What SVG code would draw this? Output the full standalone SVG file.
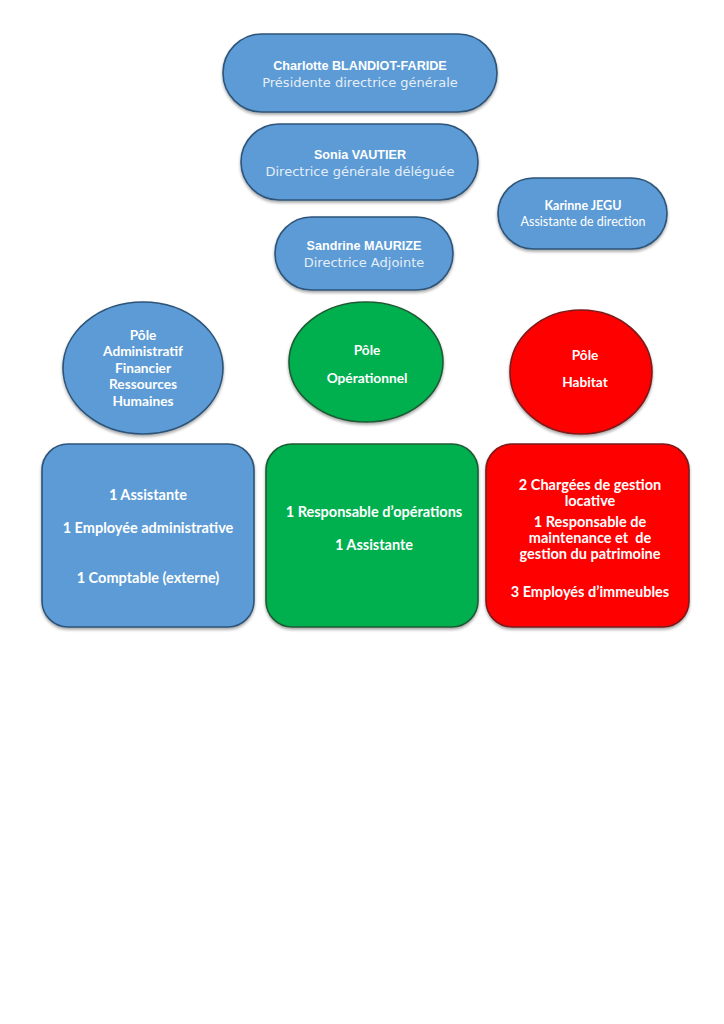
<svg xmlns="http://www.w3.org/2000/svg" width="724" height="1024" viewBox="0 0 724 1024">
<defs>
<filter id="sh" x="-10%" y="-10%" width="120%" height="130%">
<feGaussianBlur in="SourceAlpha" stdDeviation="1.5"/>
<feOffset dx="0" dy="1.5" result="b"/>
<feComponentTransfer><feFuncA type="linear" slope="0.35"/></feComponentTransfer>
<feMerge><feMergeNode/><feMergeNode in="SourceGraphic"/></feMerge>
</filter>
</defs>
<style>
.blue{fill:#5B9BD5;stroke:#2E5478;stroke-width:1.6;filter:url(#sh)}
.green{fill:#00B050;stroke:#1F5A33;stroke-width:1.6;filter:url(#sh)}
.red{fill:#FF0000;stroke:#7A1A1A;stroke-width:1.6;filter:url(#sh)}
.t{font-family:Lato,"Open Sans",sans-serif;font-weight:bold;fill:#FFFFFF;text-anchor:middle;font-size:14.5px}
.c{font-family:Lato,"Open Sans",sans-serif;font-weight:bold;fill:#FFFFFF;text-anchor:middle;font-size:13.7px}
.h{font-family:"Liberation Sans",Arial,sans-serif;font-weight:bold;fill:#FFFFFF;text-anchor:middle;font-size:12.6px}
.s{font-family:"DejaVu Sans",Verdana,sans-serif;fill:#E4EEF8;text-anchor:middle;font-size:13px}
.k{font-family:Lato,"Open Sans",sans-serif;fill:#FFFFFF;text-anchor:middle;font-size:12.5px}
</style>
<rect width="724" height="1024" fill="#FFFFFF"/>
<g id="connectors"/>
<g id="charlotte">
<rect class="blue" x="223" y="34" width="274" height="78" rx="39"/>
<text class="h" x="360" y="70">Charlotte BLANDIOT-FARIDE</text>
<text class="s" x="360" y="87">Présidente directrice générale</text>
</g>
<g id="sonia">
<rect class="blue" x="241" y="124" width="237" height="76" rx="38"/>
<text class="h" x="360" y="159">Sonia VAUTIER</text>
<text class="s" x="360" y="176">Directrice générale déléguée</text>
</g>
<g id="sandrine">
<rect class="blue" x="275" y="217" width="178" height="73" rx="36.5"/>
<text class="h" x="364" y="250">Sandrine MAURIZE</text>
<text class="s" x="364" y="267">Directrice Adjointe</text>
</g>
<g id="karinne">
<rect class="blue" x="498" y="178" width="169" height="71" rx="35.5"/>
<text class="k" x="583" y="210" font-weight="bold">Karinne JEGU</text>
<text class="k" x="583" y="226">Assistante de direction</text>
</g>
<g id="pole-admin">
<ellipse class="blue" cx="143" cy="368" rx="80" ry="66"/>
<text class="c" x="143" y="340">Pôle</text>
<text class="c" x="143" y="356">Administratif</text>
<text class="c" x="143" y="373">Financier</text>
<text class="c" x="143" y="389">Ressources</text>
<text class="c" x="143" y="406">Humaines</text>
</g>
<g id="pole-oper">
<ellipse class="green" cx="366" cy="362" rx="77" ry="60"/>
<text class="c" x="367" y="355">Pôle</text>
<text class="c" x="367" y="383">Opérationnel</text>
</g>
<g id="pole-habitat">
<ellipse class="red" cx="581" cy="372" rx="71" ry="62"/>
<text class="c" x="585" y="360">Pôle</text>
<text class="c" x="585" y="387">Habitat</text>
</g>
<g id="box-admin">
<rect class="blue" x="42" y="444" width="212" height="183" rx="26"/>
<text class="t" x="148" y="500">1 Assistante</text>
<text class="t" x="148" y="533">1 Employée administrative</text>
<text class="t" x="148" y="583">1 Comptable (externe)</text>
</g>
<g id="box-oper">
<rect class="green" x="266" y="444" width="212" height="183" rx="26"/>
<text class="t" x="374" y="517">1 Responsable d’opérations</text>
<text class="t" x="374" y="550">1 Assistante</text>
</g>
<g id="box-habitat">
<rect class="red" x="486" y="444" width="203" height="183" rx="26"/>
<text class="t" x="590" y="490">2 Chargées de gestion</text>
<text class="t" x="590" y="506">locative</text>
<text class="t" x="590" y="527">1 Responsable de</text>
<text class="t" x="590" y="543" xml:space="preserve">maintenance et  de</text>
<text class="t" x="590" y="559">gestion du patrimoine</text>
<text class="t" x="590" y="597">3 Employés d’immeubles</text>
</g>
</svg>
